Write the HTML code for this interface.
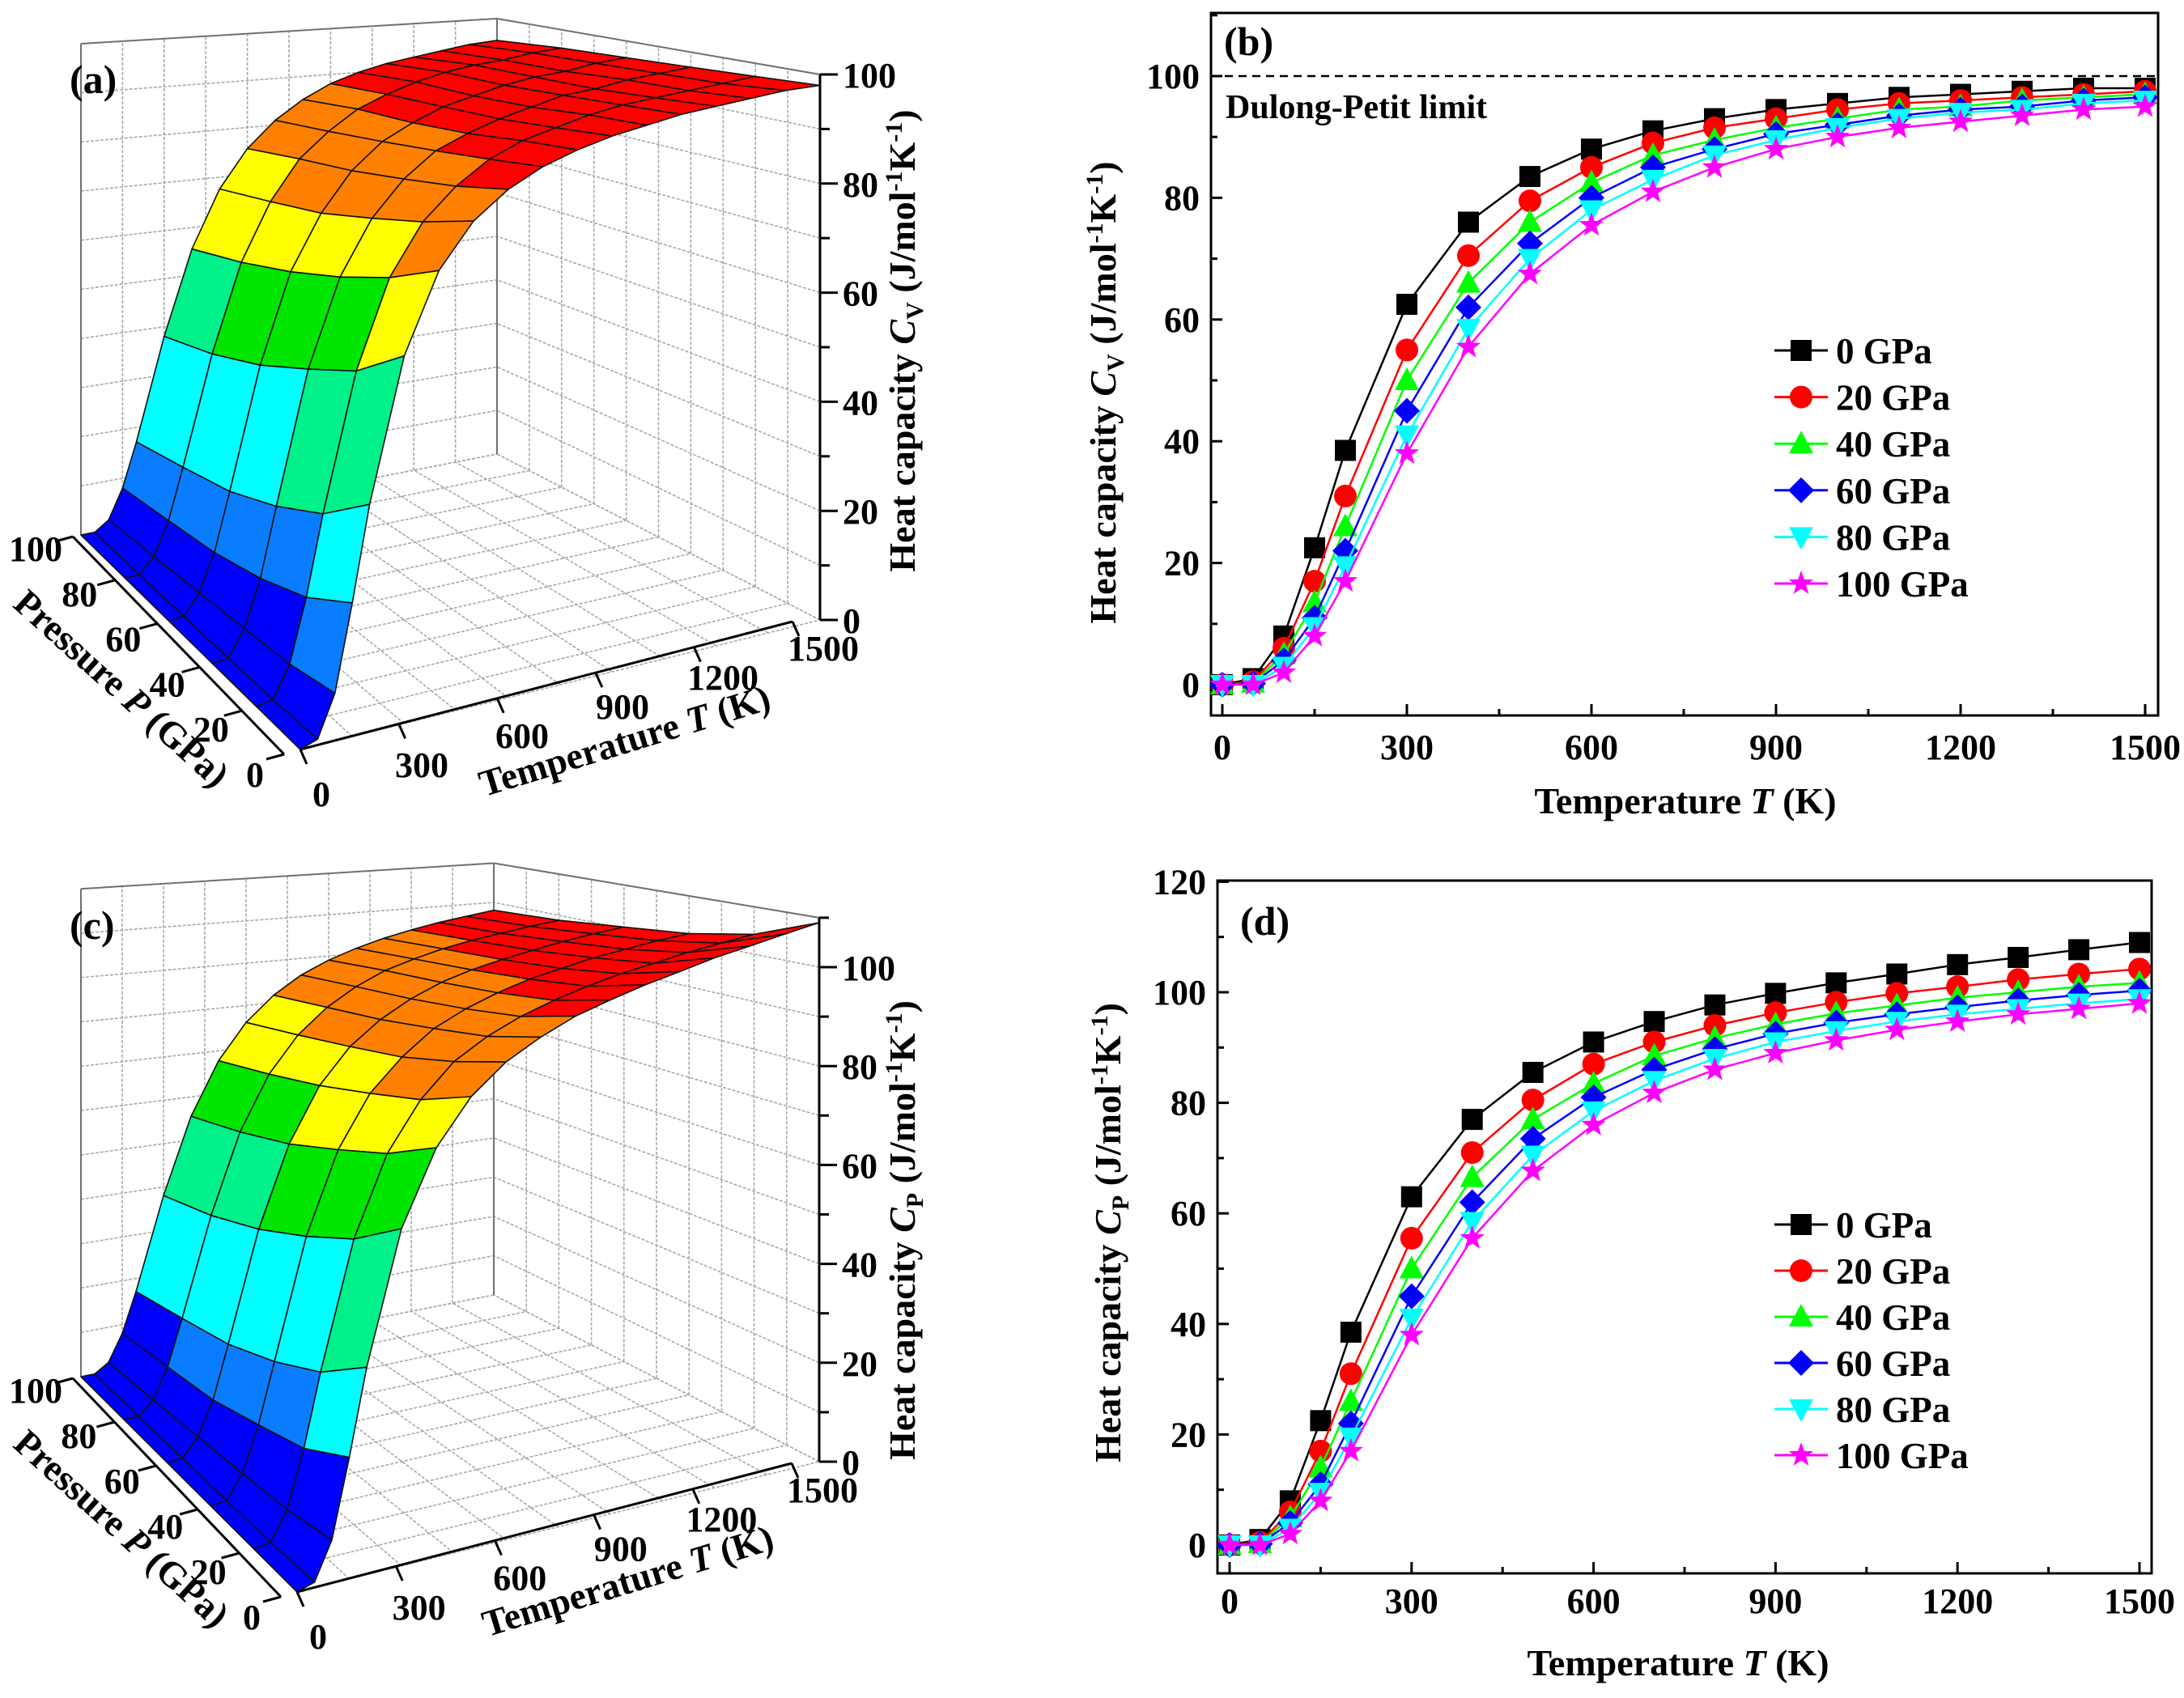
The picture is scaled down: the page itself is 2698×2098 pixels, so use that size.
<!DOCTYPE html>
<html><head><meta charset="utf-8">
<style>
html,body{margin:0;padding:0;background:#fff;}
svg{display:block;}
text{font-family:"Liberation Serif","DejaVu Serif",serif;font-weight:bold;fill:#000;}
</style></head>
<body>
<svg id="fig" xmlns="http://www.w3.org/2000/svg" width="2698" height="2098" viewBox="0 0 2698 2098">
<rect x="0" y="0" width="2698" height="2098" fill="#fff"/>
<g id="panelA"></g>
<g id="panelC"></g>
<g id="panelB"></g>
<g id="panelD"></g>
</svg>
<script>
const temps=[0,50,100,150,200,300,400,500,600,700,800,900,1000,1100,1200,1300,1400,1500];
const pressures=[0,20,40,60,80,100];
const pressureLabels=['0 GPa','20 GPa','40 GPa','60 GPa','80 GPa','100 GPa'];
const cvP0=[0,1,8,22.5,38.5,62.5,76,83.5,88,91,93,94.5,95.5,96.5,97,97.5,98,98];
const cvP20=[0,0.5,6,17,31,55,70.5,79.5,85,89,91.5,93,94.5,95.5,96,96.5,97,97.5];
const cvP40=[0,0.3,5,13.5,26,50,66,76,82.5,87,89.5,91.5,93,94.5,95,96,96.5,97];
const cvP60=[0,0.2,4,11,22,45,62,72.5,80,85,88,90.5,92,93.5,94.5,95,96,96.5];
const cvP80=[0,0,3,9.5,19.5,41,58.5,70,78,83,87,89.5,91.5,93,94,94.5,95.5,96];
const cvP100=[0,0,2,8,17,38,55.5,67.5,75.5,81,85,88,90,91.5,92.5,93.5,94.5,95];
const cpP0=[0,1,8,22.5,38.5,63,77,85.5,91,94.7,97.7,99.8,101.7,103.3,105,106.3,107.7,109];
const cpP20=[0,0.5,6,17,31,55.5,71,80.5,87,91,94,96.3,98.2,99.8,101,102.3,103.3,104.2];
const cpP40=[0,0.3,5,14,26,50,66.5,77,83.5,88.5,91.7,94.2,96.2,97.6,99,100,101,101.7];
const cpP60=[0,0.2,4,11,22,45,62,73.5,81,86,89.7,92.5,94.5,96,97.3,98.5,99.5,100.3];
const cpP80=[0,0,3,9.5,19.5,41,58.5,70.5,78.5,84,88,91,93,94.7,96,97,98,98.8];
const cpP100=[0,0,2,8,17,38,55.5,67.7,76,81.8,86,89,91.3,93.2,94.7,96,97,98];
const xTicks=[0,300,600,900,1200,1500];
const yTicksB=[0,20,40,60,80,100];
const yTicksD=[0,20,40,60,80,100,120];
const pTicks=[0,20,40,60,80,100];
const cTicks=[0,20,40,60,80,100];

const cvSeries=[cvP0,cvP20,cvP40,cvP60,cvP80,cvP100];
const cpSeries=[cpP0,cpP20,cpP40,cpP60,cpP80,cpP100];
const colors=['#000000','#ff0000','#00ff00','#0000ff','#00ffff','#ff00ff'];
const shapes=['square','circle','triUp','diamond','triDown','star'];
const NS='http://www.w3.org/2000/svg';
function mk(tag,attrs,parent){const e=document.createElementNS(NS,tag);for(const k in attrs)e.setAttribute(k,attrs[k]);if(parent)parent.appendChild(e);return e;}

function marker(g,shape,x,y,c){
  const r=13;let e;
  if(shape==='square')e=mk('rect',{x:x-r,y:y-r,width:2*r,height:2*r,fill:c},g);
  else if(shape==='circle')e=mk('circle',{cx:x,cy:y,r:r+1,fill:c},g);
  else if(shape==='triUp')e=mk('polygon',{points:`${x},${y-r-3} ${x+r+2},${y+r-1} ${x-r-2},${y+r-1}`,fill:c},g);
  else if(shape==='triDown')e=mk('polygon',{points:`${x},${y+r+3} ${x+r+2},${y-r+1} ${x-r-2},${y-r+1}`,fill:c},g);
  else if(shape==='diamond')e=mk('polygon',{points:`${x},${y-r-3} ${x+r+3},${y} ${x},${y+r+3} ${x-r-3},${y}`,fill:c},g);
  else {let p=[];for(let i=0;i<10;i++){const a=-Math.PI/2+i*Math.PI/5;const rr=i%2?r*0.5:r+3;p.push((x+rr*Math.cos(a)).toFixed(1)+','+(y+rr*Math.sin(a)).toFixed(1));}e=mk('polygon',{points:p.join(' '),fill:c},g);}
  return e;
}

function yTitle(g,x,y,sub,name){
  const t=mk('text',{x:0,y:0,'font-size':46,'text-anchor':'middle',transform:`translate(${x},${y}) rotate(-90)`},g);
  
  
  t.innerHTML=`Heat capacity <tspan font-style="italic">C</tspan><tspan font-size="30" dy="10">${sub}</tspan><tspan dy="-10"> (J/mol</tspan><tspan font-size="30" dy="-16">-1</tspan><tspan dy="16">K</tspan><tspan font-size="30" dy="-16">-1</tspan><tspan dy="16">)</tspan>`;
  return t;
}

function plot2D(g,cfg){
  const fx=t=>cfg.x0+t*(cfg.x1500-cfg.x0)/1500;
  const fy=v=>cfg.y0-v*cfg.py;
  const L=cfg.left,R=cfg.right,T=cfg.top,B=cfg.bottom;
  const frame=mk('rect',{x:L,y:T,width:R-L,height:B-T,fill:'none',stroke:'#000','stroke-width':3},g);
  
  
  // x ticks
  for(let t=0;t<=1500;t+=150){
    const major=(t%300===0);
    const tk=mk('line',{x1:fx(t),x2:fx(t),y1:B,y2:B-(major?14:8),stroke:'#000','stroke-width':3},g);
    
    
  }
  xTicks.forEach(t=>{
    const tx=mk('text',{x:fx(t),y:cfg.xLabelY,'font-size':44,'text-anchor':'middle'},g);
    tx.textContent=t;
    
    
  });
  for(let v=0;v<=cfg.ymax;v+=10){
    const major=(v%20===0);
    const tk=mk('line',{x1:L,x2:L+(major?14:8),y1:fy(v),y2:fy(v),stroke:'#000','stroke-width':3},g);
    
    
  }
  cfg.yTicks.forEach(v=>{
    const tx=mk('text',{x:L-14,y:fy(v)+15,'font-size':44,'text-anchor':'end'},g);
    tx.textContent=v;
    
    
  });
  const xt=mk('text',{x:cfg.xTitleX,y:cfg.xTitleY,'font-size':46,'text-anchor':'middle'},g);
  xt.innerHTML='Temperature <tspan font-style="italic">T</tspan> (K)';
  
  
  yTitle(g,cfg.yTitleX,cfg.yTitleY,cfg.sub,'y-axis-title');
  const pl=mk('text',{x:cfg.labX,y:cfg.labY,'font-size':50},g);
  pl.textContent=cfg.label;
  
  
  if(cfg.dulong){
    const dl=mk('line',{x1:L,x2:R,y1:fy(100),y2:fy(100),stroke:'#000','stroke-width':2.5,'stroke-dasharray':'10,7'},g);
    
    
    const dt=mk('text',{x:L+18,y:fy(100)+52,'font-size':42},g);
    dt.textContent='Dulong-Petit limit';
    
    
  }
  cfg.series.forEach((s,i)=>{
    const sg=mk('g',{},g);
    
    
    const pts=s.map((v,j)=>fx(temps[j]).toFixed(1)+','+fy(v).toFixed(1)).join(' ');
    const ln=mk('polyline',{points:pts,fill:'none',stroke:colors[i],'stroke-width':2.5},sg);
    
    
    s.forEach((v,j)=>{
      const m=marker(sg,shapes[i],fx(temps[j]),fy(v),colors[i]);
      
      
    });
  });
  const lg=mk('g',{},g);
  
  
  pressureLabels.forEach((lab,i)=>{
    const y=cfg.legY+i*cfg.legDy;
    const eg=mk('g',{},lg);
    
    
    mk('line',{x1:cfg.legX,x2:cfg.legX+66,y1:y,y2:y,stroke:colors[i],'stroke-width':3},eg);
    marker(eg,shapes[i],cfg.legX+33,y,colors[i]);
    const t=mk('text',{x:cfg.legX+76,y:y+16,'font-size':45},eg);
    t.textContent=lab;
  });
}

plot2D(document.getElementById('panelB'),{x0:1510,x1500:2650,y0:846,py:7.52,left:1496,right:2666,top:16,bottom:884,ymax:110,
  yTicks:yTicksB,xLabelY:938,xTitleX:2082,xTitleY:1005,yTitleX:1378,yTitleY:485,sub:'V',label:'(b)',labX:1512,labY:68,dulong:true,
  series:cvSeries,legX:2192,legY:433,legDy:57.6});
plot2D(document.getElementById('panelD'),{x0:1519,x1500:2643,y0:1909,py:6.83,left:1504,right:2658,top:1088,bottom:1944,ymax:120,
  yTicks:yTicksD,xLabelY:1993,xTitleX:2073,xTitleY:2070,yTitleX:1384,yTitleY:1523,sub:'P',label:'(d)',labX:1532,labY:1155,dulong:false,
  series:cpSeries,legX:2192,legY:1513,legDy:57});

// 3D panels
const bandColors=['#0000ff','#0a7cff','#00ffff','#00f08a','#00e600','#ffff00','#ff8000','#ff0000'];
function draw3D(g,cfg){
  const P3=(T,P,C)=>{const u=T/1500,v=P/100;
    const w=[(1-u)*(1-v),u*(1-v),(1-u)*v,u*v];
    const x=w[0]*cfg.A[0]+w[1]*cfg.B[0]+w[2]*cfg.D[0]+w[3]*cfg.E[0];
    const y=w[0]*cfg.A[1]+w[1]*cfg.B[1]+w[2]*cfg.D[1]+w[3]*cfg.E[1];
    const h=w[0]*cfg.h[0]+w[1]*cfg.h[1]+w[2]*cfg.h[2]+w[3]*cfg.h[3];
    return [x,y-C*h];};
  const line=(a,b,st,name)=>{const e=mk('line',{x1:a[0].toFixed(1),y1:a[1].toFixed(1),x2:b[0].toFixed(1),y2:b[1].toFixed(1),stroke:st.c,'stroke-width':st.w,'stroke-dasharray':st.d||'none'},g);return e;};
  const grid={c:'#a8a8a8',w:1.6,d:'4,2'};
  const edge={c:'#707070',w:2};
  const zt=cfg.zTop;
  // floor grid
  for(let t=0;t<=1500;t+=150)line(P3(t,0,0),P3(t,100,0),grid,'floor-grid-line');
  for(let p=0;p<=100;p+=10)line(P3(0,p,0),P3(1500,p,0),grid,'floor-grid-line');
  // back wall P=100
  for(let t=0;t<=1500;t+=150)line(P3(t,100,0),P3(t,100,zt),grid,'wall-grid-line');
  for(let c=0;c<=zt;c+=10)line(P3(0,100,c),P3(1500,100,c),grid,'wall-grid-line');
  // right wall T=1500
  for(let p=0;p<=100;p+=10)line(P3(1500,p,0),P3(1500,p,zt),grid,'wall-grid-line');
  for(let c=0;c<=zt;c+=10)line(P3(1500,0,c),P3(1500,100,c),grid,'wall-grid-line');
  line(P3(0,100,0),P3(0,100,zt),edge,'box-edge');
  line(P3(1500,100,0),P3(1500,100,zt),edge,'box-edge');
  line(P3(0,100,zt),P3(1500,100,zt),edge,'box-edge');
  line(P3(1500,100,zt),P3(1500,0,zt),edge,'box-edge');
  // surface
  const sg=mk('g',{},g);
  
  
  const S=cfg.series;
  for(let i=S.length-1;i>=1;i--){
    for(let j=temps.length-1;j>=1;j--){
      const v=(S[i][j]+S[i-1][j]+S[i][j-1]+S[i-1][j-1])/4;
      let k=Math.floor(v/cfg.band);if(k<0)k=0;if(k>7)k=7;
      const q=[P3(temps[j-1],pressures[i-1],S[i-1][j-1]),P3(temps[j],pressures[i-1],S[i-1][j]),P3(temps[j],pressures[i],S[i][j]),P3(temps[j-1],pressures[i],S[i][j-1])];
      const poly=mk('polygon',{points:q.map(p=>p[0].toFixed(1)+','+p[1].toFixed(1)).join(' '),fill:bandColors[k],stroke:'#111','stroke-width':1.6,'stroke-linejoin':'round'},sg);
      
      
    }
  }
  const ax={c:'#000',w:3};
  // T axis
  const a0=P3(0,0,0),a1=P3(1500,0,0);
  line([a0[0],a0[1]],[a1[0]-34,a1[1]+2],ax,'temperature-axis');
  xTicks.forEach(t=>{
    const u=t/1500;const p=P3(t,0,0);const px=p[0]-34*u,py=p[1]+2*u;
    line([px,py],[px+8,py+18],ax,'temperature-tick');
    const tx=mk('text',{x:(px+26+12*u).toFixed(1),y:(py+70-22*u).toFixed(1),'font-size':44,'text-anchor':'middle'},g);
    tx.textContent=t;
    
    
  });
  // P axis
  line([a0[0]-20,a0[1]+6],[P3(0,100,0)[0]-10,P3(0,100,0)[1]+2],ax,'pressure-axis');
  pTicks.forEach(p=>{
    const v=p/100;const q=P3(0,p,0);const qx=q[0]-20+10*v,qy=q[1]+6-4*v;
    line([qx,qy],[qx-22,qy+6],ax,'pressure-tick');
    const tx=mk('text',{x:(qx-36-10*v).toFixed(1),y:(qy+40-10*v).toFixed(1),'font-size':44,'text-anchor':'middle'},g);
    tx.textContent=p;
    
    
  });
  // C axis
  line(P3(1500,0,0),P3(1500,0,zt),ax,'heat-capacity-axis');
  for(let c=0;c<=zt;c+=10){const p=P3(1500,0,c);line(p,[p[0]+(c%20===0?22:12),p[1]],ax,'heat-capacity-tick');}
  cTicks.forEach(c=>{
    const p=P3(1500,0,c);
    const tx=mk('text',{x:(p[0]+28).toFixed(1),y:(p[1]+16).toFixed(1),'font-size':44},g);
    tx.textContent=c;
    
    
  });
  const tt=mk('text',{x:0,y:0,'font-size':46,'text-anchor':'middle',transform:`translate(${cfg.tTitle[0]},${cfg.tTitle[1]}) rotate(-17)`},g);
  tt.innerHTML='Temperature <tspan font-style="italic">T</tspan> (K)';
  
  
  const pt=mk('text',{x:0,y:0,'font-size':46,'text-anchor':'middle',transform:`translate(${cfg.pTitle[0]},${cfg.pTitle[1]}) rotate(42)`},g);
  pt.innerHTML='Pressure <tspan font-style="italic">P</tspan> (GPa)';
  
  
  yTitle(g,cfg.cTitle[0],cfg.cTitle[1],cfg.sub,'heat-capacity-axis-title');
  const pl=mk('text',{x:cfg.lab[0],y:cfg.lab[1],'font-size':50},g);
  pl.textContent=cfg.label;
  
  
}
draw3D(document.getElementById('panelA'),{A:[371,926],B:[1013,766],D:[100,661],E:[614,561],h:[7.4,6.74,6.07,5.38],zTop:100,band:12.5,
  series:cvSeries,sub:'V',tTitle:[776,930],pTitle:[140,862],cTitle:[1130,421],lab:[86,115],label:'(a)'});
draw3D(document.getElementById('panelC'),{A:[367,1967],B:[1012,1806],D:[100,1701],E:[610,1600],h:[6.74,6.11,5.48,4.85],zTop:110,band:13.6,
  series:cpSeries,sub:'P',tTitle:[780,1968],pTitle:[140,1900],cTitle:[1130,1520],lab:[86,1160],label:'(c)'});
</script>
</body></html>
